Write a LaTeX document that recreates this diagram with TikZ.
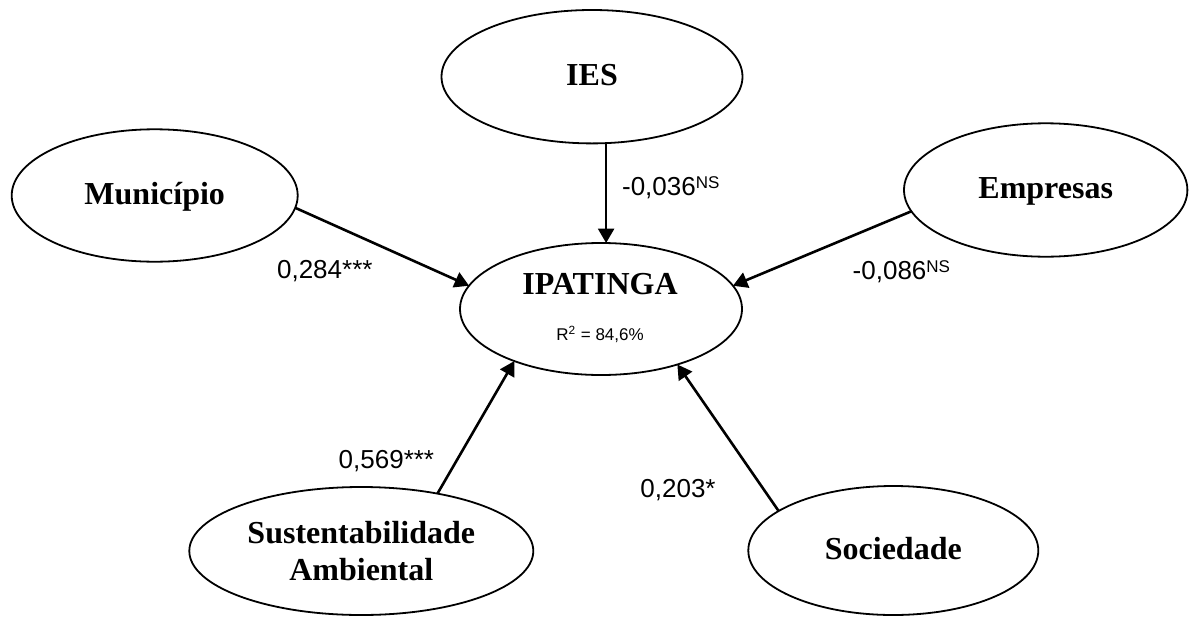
\documentclass[tikz,border=0pt]{standalone}
\usepackage{fontspec}
\setmainfont{Liberation Serif}
\newfontfamily\arialfont{Liberation Sans}
\usetikzlibrary{shapes.geometric,arrows.meta}

\newcommand{\nsmark}{\raisebox{3.3pt}{\fontsize{8.5}{9}\selectfont NS}}

\begin{document}
\begin{tikzpicture}[x=0.5pt, y=-0.5pt,
    latent/.style={draw, ellipse, line width=0.9pt, inner sep=0pt, outer sep=0pt,
      font=\fontsize{16}{18.35}\selectfont\bfseries},
    oneline/.style={latent, text height=8.5pt, text depth=0pt},
    effect/.style={-{Triangle[length=7.2pt,width=8pt]}, line width=1.3pt},
    coef/.style={anchor=base west, inner sep=0pt, font=\arialfont\fontsize{13}{15}\selectfont}]
  \useasboundingbox (0,0) rectangle (1189,616);

  % constructs
  \node[oneline, minimum width=150.5pt, minimum height=66.7pt] (ies) at (592,76.7) {IES};
  \node[oneline, minimum width=143pt, minimum height=66.2pt] (muni) at (154.7,195.5) {Município};
  \node[oneline, minimum width=141.7pt, minimum height=66.7pt] (emp) at (1045.7,190) {Empresas};
  \node[latent, minimum width=172pt, minimum height=64pt, align=center] (sust) at (361.3,551) {Sustentabilidade\\Ambiental};
  \node[oneline, minimum width=145pt, minimum height=64.5pt] (soc) at (893.3,550.5) {Sociedade};

  \node[latent, minimum width=141pt, minimum height=66pt] (ipat) at (601,309) {};
  \node[anchor=base, inner sep=0pt, font=\fontsize{16}{18}\selectfont\bfseries] (ipatname) at (600,294) {IPATINGA};
  \node[anchor=base, inner sep=0pt, font=\arialfont\fontsize{8.5}{10}\selectfont] (rsq) at (600,340) {R\textsuperscript{2} = 84,6\%};

  % paths
  \draw[effect] (ies.-78) -- (ies.-78 |- ipat.north);
  \draw[effect] (muni.-5.8) -- (ipat.170.5);
  \draw[effect] (emp.-171.5) -- (ipat.10);
  \draw[effect] (sust.37.3) -- (ipat.-149);
  \draw[effect] (soc.161.6) -- (ipat.-36);

  % coefficients
  \node[coef] (cies) at (621.7,195) {-0,036\nsmark};
  \node[coef] (cmuni) at (276.7,278.3) {0,284***};
  \node[coef] (cemp) at (852.3,279.3) {-0,086\nsmark};
  \node[coef] (csust) at (338.3,468.3) {0,569***};
  \node[coef] (csoc) at (640,497.3) {0,203*};
\end{tikzpicture}
\end{document}
